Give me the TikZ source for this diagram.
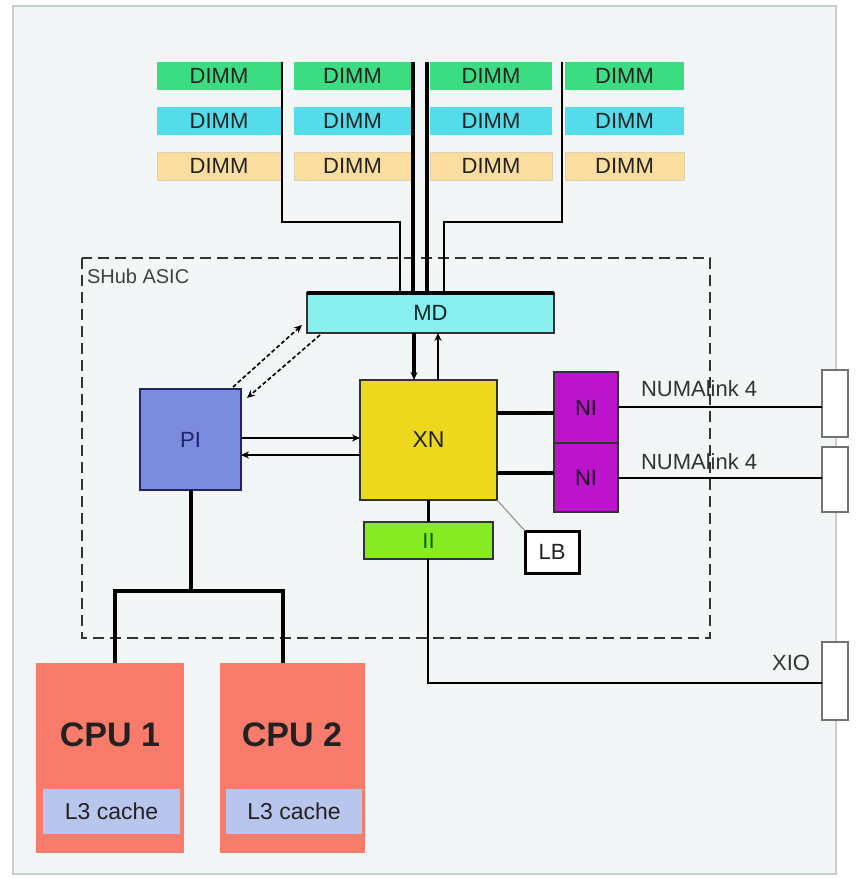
\documentclass[tikz,border=0pt]{standalone}
\usepackage{fontspec}
\setmainfont{Liberation Sans}
\usetikzlibrary{arrows.meta,calc}
\definecolor{bgc}{HTML}{F3F6F6}
\definecolor{frm}{HTML}{C8CECE}
\definecolor{dgreen}{HTML}{3CDC82}
\definecolor{dcyan}{HTML}{55DCEB}
\definecolor{dorange}{HTML}{FADEA0}
\definecolor{mdc}{HTML}{88EEEE}
\definecolor{xnc}{HTML}{EED81E}
\definecolor{pic}{HTML}{7B8BDD}
\definecolor{nic}{HTML}{BB14CC}
\definecolor{iic}{HTML}{88EB22}
\definecolor{cpuc}{HTML}{F87B6B}
\definecolor{l3c}{HTML}{B8C6EE}
\definecolor{txt}{HTML}{222222}
\definecolor{navy}{HTML}{22246A}
\begin{document}
\begin{tikzpicture}[x=1pt,y=-1pt,
  every node/.style={inner sep=0pt,outer sep=0pt},
  blk/.style={anchor=north west,font=\fontsize{22}{22}\selectfont,text=txt},
  dimm/.style={blk,minimum height=28pt},
  unit/.style={blk,draw=black!80,line width=1.4pt},
  thinl/.style={line width=1.5pt,black},
  thkl/.style={line width=4pt,black},
  arr/.style={-{Stealth[length=8pt,width=7pt]}},
  port/.style={anchor=north west,draw=black!55,line width=1.2pt,fill=white,minimum width=26pt}]
\useasboundingbox (0,0) rectangle (859,878);
\fill[white] (0,0) rectangle (859,878);
\draw[line width=1.5pt,draw=frm,fill=bgc] (13,6) rectangle (836,874);

% DIMMs
\foreach \c/\x/\w in {1/157/124,2/294/117,3/430/122,4/565/119}{
  \node[dimm,fill=dgreen,minimum width=\w pt] (dg\c) at (\x,62) {DIMM};
  \node[dimm,fill=dcyan,minimum width=\w pt] (dc\c) at (\x,107) {DIMM};
  \node[dimm,fill=dorange,draw=dorange!80!black!60,minimum width=\w pt] (do\c) at (\x,152) {DIMM};
}

% SHub ASIC
\draw[line width=1.5pt,black!80,dash pattern=on 11pt off 6pt] (82,258) rectangle (710,638);
\node[anchor=west,font=\fontsize{20}{20}\selectfont,text=black!75] (shub) at (87,276) {SHub ASIC};

% MD
\node[unit,fill=mdc,minimum width=247pt,minimum height=40pt,text=black!70!teal] (md) at (307,293) {MD};
\draw[line width=4pt] (md.north west) -- (md.north east);

% DIMM connections
\draw[thinl] (282,62) -- (282,222) -- (400,222) -- (400,291);
\draw[thinl] (562,62) -- (562,222) -- (444,222) -- (444,291);
\draw[thkl] (413,62) -- (413,291);
\draw[thkl] (427,62) -- (427,291);

% XN
\node[unit,fill=xnc,minimum width=137pt,minimum height=120pt,font=\fontsize{23}{23}\selectfont] (xn) at (360,380) {XN};
% PI
\node[unit,draw=navy,fill=pic,minimum width=101pt,minimum height=101pt,text=navy] (pi) at (140,389) {PI};
% NI
\node[unit,fill=nic,minimum width=64pt,minimum height=71pt,text=black!75!violet] (ni1) at (554,372) {NI};
\node[unit,fill=nic,minimum width=64pt,minimum height=69pt,text=black!75!violet] (ni2) at (554,443) {NI};
% II
\node[unit,fill=iic,minimum width=129pt,minimum height=37pt,text=black!60!green] (ii) at (364,522) {II};
% LB
\node[blk,draw=black,line width=3pt,fill=white,minimum width=54pt,minimum height=42pt] (lb) at (525,531) {LB};
% ports
\node[port,minimum height=67pt] (p1) at (822,370) {};
\node[port,minimum height=65pt] (p2) at (822,447) {};
\node[port,minimum height=78pt] (xio) at (822,642) {};

% MD <-> XN
\draw[line width=3.5pt,arr] ([xshift=-16.5pt]md.south) -- ([xshift=-16.5pt]md.south |- xn.north);
\draw[line width=2.5pt,arr] ([xshift=7.5pt]md.south |- xn.north) -- ([xshift=7.5pt]md.south);
% PI <-> MD dashed
\draw[line width=1.6pt,dash pattern=on 4pt off 2.5pt,arr] ($(pi.north east)+(-8,-2)$) -- ($(md.south west)+(-5,-8)$);
\draw[line width=1.6pt,dash pattern=on 4pt off 2.5pt,arr] ($(md.south west)+(13,2)$) -- ($(pi.north east)+(6,9)$);
% PI <-> XN
\draw[line width=1.8pt,arr] ([yshift=1.5pt]pi.east) -- ([yshift=1.5pt]pi.east -| xn.west);
\draw[line width=1.8pt,arr] ([yshift=-15.5pt]pi.east -| xn.west) -- ([yshift=-15.5pt]pi.east);
% XN <-> NI
\draw[thkl] ([yshift=27pt]xn.east) -- ([yshift=27pt]xn.east -| ni1.west);
\draw[thkl] ([yshift=-33pt]xn.east) -- ([yshift=-33pt]xn.east -| ni2.west);
% NUMAlink
\draw[thinl] ([yshift=0.5pt]ni1.east) -- ([yshift=0.5pt]ni1.east -| p1.west);
\draw[thinl] ([yshift=-0.5pt]ni2.east) -- ([yshift=-0.5pt]ni2.east -| p2.west);
\node[anchor=west,font=\fontsize{22}{22}\selectfont,text=black!80] (nl1) at (641,389) {NUMAlink 4};
\node[anchor=west,font=\fontsize{22}{22}\selectfont,text=black!80] (nl2) at (641,462) {NUMAlink 4};
% XN - II - XIO
\draw[line width=3pt] ([xshift=-0.5pt]xn.south) -- ([xshift=-0.5pt]xn.south |- ii.north);
\draw[line width=2pt] ([xshift=-0.5pt]ii.south) |- (xio.west |- 0,683);
\node[anchor=east,font=\fontsize{22}{22}\selectfont,text=black!80] (xiol) at (810,663) {XIO};
% XN - LB
\draw[line width=1pt,black!45] (xn.south east) -- (lb.north west);

% CPUs
\node[blk,fill=cpuc,minimum width=148pt,minimum height=190pt] (cpu1) at (36,663) {};
\node[blk,fill=cpuc,minimum width=145pt,minimum height=190pt] (cpu2) at (220,663) {};
\node[font=\fontsize{34}{34}\selectfont\bfseries,text=txt] (c1t) at (110,735) {CPU 1};
\node[font=\fontsize{34}{34}\selectfont\bfseries,text=txt] (c2t) at (292,735) {CPU 2};
\node[blk,fill=l3c,minimum width=137pt,minimum height=45pt,font=\fontsize{23}{23}\selectfont] (l31) at (43,789) {L3 cache};
\node[blk,fill=l3c,minimum width=136pt,minimum height=45pt,font=\fontsize{23}{23}\selectfont] (l32) at (226,789) {L3 cache};
% PI - CPUs
\draw[thkl] (pi.south) -- ++(0,101);
\draw[thkl] ([xshift=5pt]cpu1.north) -- ++(0,-72) -| ([xshift=-9.5pt]cpu2.north);
\end{tikzpicture}
\end{document}
